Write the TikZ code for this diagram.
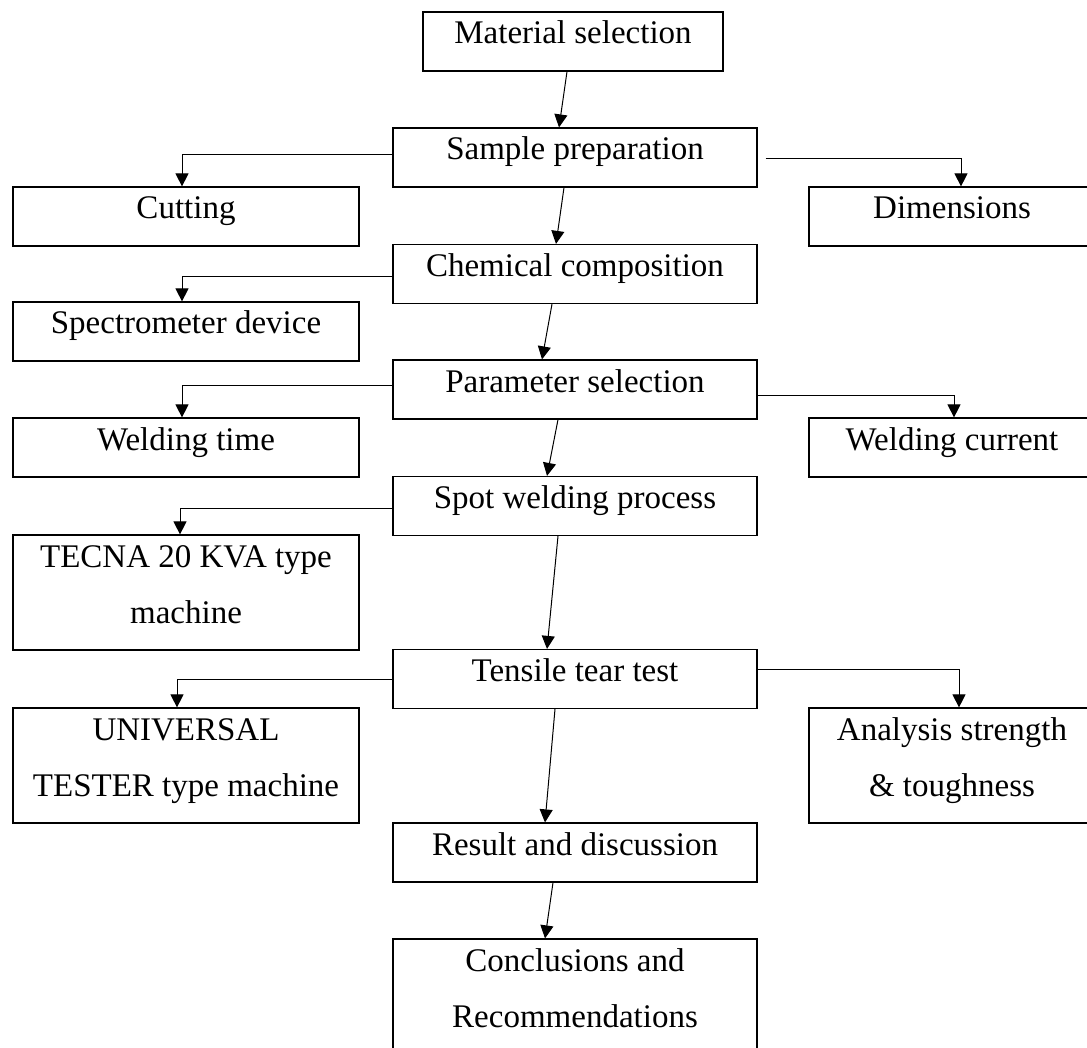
\documentclass[tikz,border=0pt]{standalone}
\usepackage{fontspec}
\setmainfont{Liberation Serif}
\usetikzlibrary{arrows.meta}

\begin{document}
\begin{tikzpicture}[
  x=0.5pt, y=-0.5pt,
  font=\fontsize{16.5pt}{28pt}\selectfont,
  box/.style={draw, line width=0.6pt, inner sep=0pt, align=center, text height=16pt, text depth=13.5pt},
  tall/.style={text height=44pt},
  mid/.style={box, minimum width=182pt},
  side/.style={box, minimum width=173pt},
  far/.style={box, minimum width=143pt},
  link/.style={line width=0.5pt, -{Triangle[length=6.5pt,width=6.5pt]}}
]
\useasboundingbox (0,0) rectangle (1087,1048);
\clip (0,0) rectangle (1087,1048);

% Centre column: main steps
\node[box, minimum width=150pt] (matsel) at (573,41.5) {Material selection};
\node[mid] (sampprep) at (575,157.5) {Sample preparation};
\node[mid] (chemcomp) at (575,274) {Chemical composition};
\node[mid] (paramsel) at (575,389.5) {Parameter selection};
\node[mid] (spotweld) at (575,506) {Spot welding process};
\node[mid] (tensile) at (575,679) {Tensile tear test};
\node[mid] (result) at (575,852.5) {Result and discussion};
\node[mid, tall] (concl) at (575,996.5) {Conclusions and\\Recommendations};

% Left column
\node[side] (cutting) at (186,216.5) {Cutting};
\node[side] (spectro) at (186,331.5) {Spectrometer device};
\node[side] (weldtime) at (186,447.5) {Welding time};
\node[side, tall] (tecna) at (186,592.5) {TECNA 20 KVA type\\machine};
\node[side, tall] (universal) at (186,765.5) {UNIVERSAL\\TESTER type machine};

% Right column
\node[far] (dims) at (952,216.5) {Dimensions};
\node[far] (weldcur) at (952,447.5) {Welding current};
\node[far, tall] (analysis) at (952,765.5) {Analysis strength\\\& toughness};

% main chain
\draw[link] ([xshift=-3pt]matsel.south) -- ([xshift=-8pt]sampprep.north);
\draw[link] ([xshift=-5.5pt]sampprep.south) -- ([xshift=-9.5pt]chemcomp.north);
\draw[link] ([xshift=-11.5pt]chemcomp.south) -- ([xshift=-16.5pt]paramsel.north);
\draw[link] ([xshift=-8.5pt]paramsel.south) -- ([xshift=-14pt]spotweld.north);
\draw[link] ([xshift=-8.5pt]spotweld.south) -- ([xshift=-14pt]tensile.north);
\draw[link] ([xshift=-10pt]tensile.south) -- ([xshift=-15pt]result.north);
\draw[link] ([xshift=-11pt]result.south) -- ([xshift=-15pt]concl.north);

% side branches
\draw[link] ([yshift=1.25pt]sampprep.west) -| ([xshift=-2pt]cutting.north);
\draw[link, shorten <=4pt] ([yshift=-0.75pt]sampprep.east) -| ([xshift=4.5pt]dims.north);
\draw[link] ([yshift=-1.5pt]chemcomp.west) -| ([xshift=-2pt]spectro.north);
\draw[link] ([yshift=2.25pt]paramsel.west) -| ([xshift=-2pt]weldtime.north);
\draw[link] ([yshift=-2.75pt]paramsel.east) -| ([xshift=1pt]weldcur.north);
\draw[link] ([yshift=-1pt]spotweld.west) -| ([xshift=-3pt]tecna.north);
\draw[link] (tensile.west) -| ([xshift=-4.5pt]universal.north);
\draw[link] ([yshift=5pt]tensile.east) -| ([xshift=3.5pt]analysis.north);
\end{tikzpicture}
\end{document}
